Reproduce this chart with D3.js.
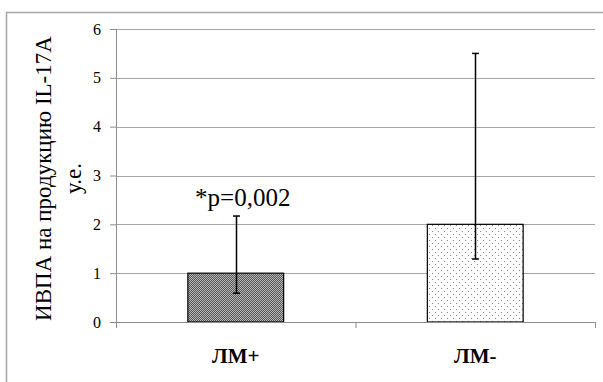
<!DOCTYPE html>
<html>
<head>
<meta charset="utf-8">
<script src="https://cdn.jsdelivr.net/npm/d3@7"></script>
<style>
  body { margin: 0; background: #fff; }
  text, tspan { font-family: 'Liberation Serif', serif !important; }
</style>
</head>
<body>
<div id="c"></div>
<script>
const categories = ["ЛМ+", "ЛМ-"];
const means = [1.0, 2.0];
const errLow = [0.59, 1.29];
const errHigh = [2.17, 5.5];
const yTicks = [0, 1, 2, 3, 4, 5, 6];
const annotation = "*p=0,002";
const yTitle = ["ИВПА на продукцию IL-17A", "у.е."];

const W = 603, H = 382;
const margin = { left: 116, right: 8, top: 29, bottom: 60 };
const width = W - margin.left - margin.right;
const height = H - margin.top - margin.bottom;

const svg = d3.select("#c").append("svg")
  .attr("width", W).attr("height", H);

// patterns
const defs = svg.append("defs");
const p1 = defs.append("pattern").attr("id", "dense")
  .attr("patternUnits", "userSpaceOnUse").attr("width", 2).attr("height", 2);
p1.append("rect").attr("width", 2).attr("height", 2).attr("fill", "#b8b8b8");
p1.append("rect").attr("width", 1).attr("height", 1).attr("fill", "#555");
p1.append("rect").attr("x", 1).attr("y", 1).attr("width", 1).attr("height", 1).attr("fill", "#555");

const p2 = defs.append("pattern").attr("id", "sparse")
  .attr("patternUnits", "userSpaceOnUse").attr("width", 6).attr("height", 6);
p2.append("rect").attr("width", 6).attr("height", 6).attr("fill", "#fff");
p2.append("rect").attr("x", 1).attr("y", 1).attr("width", 1).attr("height", 1).attr("fill", "#888");
p2.append("rect").attr("x", 4).attr("y", 4).attr("width", 1).attr("height", 1).attr("fill", "#888");

// outer frame
svg.append("rect")
  .attr("x", 6.5).attr("y", 12.5).attr("width", 620).attr("height", 400)
  .attr("fill", "none").attr("stroke", "#a6a6a6").attr("stroke-width", 1.5);

const g = svg.append("g")
  .attr("transform", "translate(" + margin.left + "," + margin.top + ")");

const x = d3.scaleBand()
  .domain(categories)
  .range([0, width])
  .paddingInner(0.6)
  .paddingOuter(0.3);

const y = d3.scaleLinear()
  .domain([0, 6])
  .range([height, 0]);

// gridlines
g.append("g")
  .selectAll("line")
  .data(yTicks.filter(d => d > 0))
  .enter()
  .append("line")
  .attr("x1", 0).attr("x2", width)
  .attr("y1", d => Math.round(y(d)) + 0.5)
  .attr("y2", d => Math.round(y(d)) + 0.5)
  .attr("stroke", "#a6a6a6").attr("stroke-width", 1.2);

// Y axis
const yAxis = g.append("g")
  .call(d3.axisLeft(y).tickValues(yTicks).tickSize(6).tickPadding(9).tickFormat(d3.format("d")));
yAxis.attr("font-size", null).attr("font-family", null);
yAxis.selectAll("path, line").attr("stroke", "#8c8c8c");
yAxis.select(".domain").attr("d", "M0.5," + y(6) + "V" + (height + 0.5));
yAxis.selectAll("text")
  .attr("fill", "#000")
  .style("font-size", "16px");

// bars
const bars = g.append("g");
bars.selectAll("rect")
  .data(categories)
  .enter()
  .append("rect")
  .attr("x", d => x(d))
  .attr("y", (d, i) => y(means[i]))
  .attr("width", x.bandwidth())
  .attr("height", (d, i) => height - y(means[i]))
  .attr("fill", (d, i) => i === 0 ? "url(#dense)" : "url(#sparse)")
  .attr("stroke", "#000").attr("stroke-width", 1.2);

// X axis (after bars so it sits on top)
const band = width / categories.length;
const xAxis = g.append("g").attr("transform", "translate(0," + height + ")");
xAxis.append("line")
  .attr("x1", 0).attr("x2", width).attr("y1", 0.5).attr("y2", 0.5)
  .attr("stroke", "#8c8c8c");
xAxis.selectAll(".tk")
  .data(d3.range(categories.length + 1))
  .enter()
  .append("line")
  .attr("x1", d => d * band + 0.5).attr("x2", d => d * band + 0.5)
  .attr("y1", 0).attr("y2", 6)
  .attr("stroke", "#8c8c8c");
xAxis.selectAll("text")
  .data(categories)
  .enter()
  .append("text")
  .attr("x", d => x(d) + x.bandwidth() / 2)
  .attr("y", 41)
  .attr("text-anchor", "middle")
  .style("font-size", "21px")
  .style("font-weight", "bold")
  .text(d => d);

// error bars
const errs = g.append("g").attr("stroke", "#000").attr("stroke-width", 1.5);
categories.forEach((c, i) => {
  const cx = Math.round(x(c) + x.bandwidth() / 2) + 0.5;
  errs.append("line").attr("x1", cx).attr("x2", cx)
    .attr("y1", y(errLow[i])).attr("y2", y(errHigh[i]));
  [errLow[i], errHigh[i]].forEach(v => {
    errs.append("line").attr("x1", cx - 3.5).attr("x2", cx + 3.5)
      .attr("y1", y(v)).attr("y2", y(v));
  });
});

// annotation
g.append("text")
  .attr("x", x(categories[0]) + x.bandwidth() / 2 + 7)
  .attr("y", y(errHigh[0]) - 10)
  .attr("text-anchor", "middle")
  .style("font-size", "25px")
  .text(annotation);

// y title
const yt = svg.append("text")
  .attr("transform", "translate(51," + (margin.top + height / 2 + 3) + ") rotate(-90)")
  .attr("text-anchor", "middle")
  .style("font-size", "23px");
yt.append("tspan").attr("x", 0).attr("dy", 0).text(yTitle[0]);
yt.append("tspan").attr("x", 0).attr("dy", 30).text(yTitle[1]);
</script>
</body>
</html>
